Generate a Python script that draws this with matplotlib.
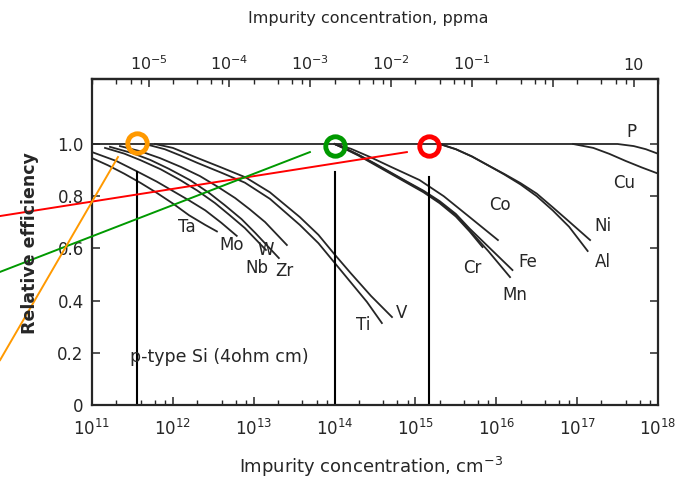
import numpy as np
import matplotlib
matplotlib.use("Agg")
import matplotlib.pyplot as plt
from matplotlib.ticker import LogLocator, FixedLocator, FuncFormatter, NullFormatter

# curves: log10 of concentration (cm^-3) and relative efficiency
p_logn = [11.0, 17.5, 17.7, 17.85, 17.98]
p_eff = [1.0, 1.0, 0.992, 0.98, 0.965]
cu_logn = [16.95, 17.2, 17.4, 17.6, 17.8, 17.98]
cu_eff = [1.0, 0.985, 0.962, 0.935, 0.91, 0.889]
ni_logn = [15.3, 15.5, 15.7, 15.9, 16.1, 16.3, 16.5, 16.7, 16.9, 17.16]
ni_eff = [1.0, 0.98, 0.952, 0.918, 0.885, 0.85, 0.81, 0.757, 0.703, 0.632]
al_logn = [15.3, 15.5, 15.7, 15.9, 16.1, 16.3, 16.5, 16.7, 16.9, 17.13]
al_eff = [1.0, 0.98, 0.952, 0.918, 0.883, 0.845, 0.80, 0.745, 0.683, 0.59]
co_logn = [14.0, 14.2, 14.44, 14.7, 15.05, 15.35, 15.67, 16.02]
co_eff = [1.0, 0.982, 0.95, 0.912, 0.862, 0.80, 0.72, 0.632]
cr_logn = [14.0, 14.15, 14.3, 14.5, 14.7, 14.9, 15.1, 15.3, 15.5, 15.67, 15.83]
cr_eff = [1.0, 0.978, 0.955, 0.92, 0.885, 0.85, 0.815, 0.773, 0.722, 0.665, 0.605]
mn_logn = [14.0, 14.15, 14.3, 14.5, 14.7, 14.9, 15.1, 15.3, 15.5, 15.67, 15.9, 16.17]
mn_eff = [1.0, 0.98, 0.957, 0.923, 0.888, 0.853, 0.818, 0.777, 0.727, 0.669, 0.59, 0.49]
fe_logn = [14.0, 14.15, 14.3, 14.5, 14.7, 14.9, 15.1, 15.3, 15.5, 15.67, 15.9, 16.2]
fe_eff = [1.0, 0.98, 0.958, 0.925, 0.89, 0.855, 0.821, 0.781, 0.732, 0.676, 0.607, 0.517]
ta_logn = [11.0, 11.2, 11.4, 11.6, 11.8, 12.0, 12.2, 12.4, 12.545]
ta_eff = [0.946, 0.918, 0.886, 0.851, 0.813, 0.772, 0.727, 0.69, 0.665]
mo_logn = [11.0, 11.3, 11.57, 11.8, 12.0, 12.2, 12.4, 12.6, 12.79]
mo_eff = [0.969, 0.935, 0.893, 0.856, 0.82, 0.784, 0.746, 0.698, 0.648]
nb_logn = [11.161, 11.4, 11.6, 11.85, 12.09, 12.3, 12.52, 12.7, 12.89, 13.151]
nb_eff = [0.985, 0.963, 0.938, 0.903, 0.862, 0.822, 0.774, 0.728, 0.678, 0.594]
zr_logn = [11.222, 11.5, 11.72, 11.95, 12.21, 12.45, 12.64, 12.85, 13.02, 13.311]
zr_eff = [0.989, 0.965, 0.939, 0.905, 0.862, 0.812, 0.766, 0.712, 0.659, 0.563]
w_logn = [11.346, 11.6, 11.84, 12.1, 12.335, 12.55, 12.77, 12.95, 13.14, 13.41]
w_eff = [0.992, 0.972, 0.946, 0.912, 0.877, 0.837, 0.793, 0.75, 0.701, 0.613]
ti_logn = [11.655, 11.9, 12.1, 12.3, 12.6, 12.89, 13.2, 13.57, 13.8, 14.0, 14.2, 14.4, 14.585]
ti_eff = [1.0, 0.98, 0.955, 0.928, 0.89, 0.852, 0.79, 0.69, 0.62, 0.545, 0.47, 0.395, 0.314]
v_logn = [11.779, 12.0, 12.3, 12.6, 12.9, 13.2, 13.57, 13.8, 14.0, 14.2, 14.45, 14.71]
v_eff = [1.0, 0.985, 0.947, 0.91, 0.872, 0.815, 0.72, 0.652, 0.577, 0.505, 0.418, 0.337]

label_names = ["P", "Cu", "Co", "Ni", "Al", "Fe", "Cr", "Mn", "Ti", "V",
               "Ta", "Mo", "Nb", "Zr", "W"]
label_logn = [17.675, 17.576, 16.04, 17.32, 17.32, 16.39, 15.70, 16.23, 14.36, 14.83,
              12.174, 12.73, 13.04, 13.385, 13.15]
label_eff = [1.046, 0.851, 0.766, 0.686, 0.548, 0.548, 0.525, 0.421, 0.307, 0.352,
             0.682, 0.613, 0.525, 0.513, 0.594]

# axis ticks
cm_ticks = [1e11, 1e12, 1e13, 1e14, 1e15, 1e16, 1e17, 1e18]
ppma_ticks = [1e-5, 1e-4, 1e-3, 1e-2, 1e-1, 1.0, 10.0]
eff_ticks = [0, 0.2, 0.4, 0.6, 0.8, 1.0]
eff_labels = ["0", "0.2", "0.4", "0.6", "0.8", "1.0"]

# overlay marks drawn on top of the scan
circle_logn = [11.556, 14.004, 15.166]
circle_eff = [1.004, 0.992, 0.992]
circle_colors = ["#ff9900", "#009900", "#ff0000"]
vline_top = [0.893, 0.893, 0.874]
ray_logn = [[9.863, 14.894], [9.863, 13.695], [9.863, 11.321]]
ray_eff = [[0.724, 0.969], [0.510, 0.969], [0.172, 0.950]]
ray_colors = ["#ff0000", "#009900", "#ff9900"]

ink = "#262626"

fig = plt.figure(figsize=(6.77, 4.79), dpi=100)
ax = fig.add_axes([92 / 677, 1 - 405 / 479, 566 / 677, 326 / 479])
ax.set_xscale("log")
ax.set_xlim(1e11, 1e18)
ax.set_ylim(0, 1.249)

curves = [(p_logn, p_eff), (cu_logn, cu_eff), (ni_logn, ni_eff), (al_logn, al_eff),
          (co_logn, co_eff), (cr_logn, cr_eff), (mn_logn, mn_eff), (fe_logn, fe_eff),
          (ta_logn, ta_eff), (mo_logn, mo_eff), (nb_logn, nb_eff), (zr_logn, zr_eff),
          (w_logn, w_eff), (ti_logn, ti_eff), (v_logn, v_eff)]
for logn, eff in curves:
    ax.plot(np.power(10.0, logn), eff, color=ink, lw=1.3, solid_joinstyle="round")

for name, lx, ly in zip(label_names, label_logn, label_eff):
    ax.text(10 ** lx, ly, name, fontsize=12, color=ink, ha="center", va="center")

ax.text(10 ** 11.47, 0.184, "p-type Si (4ohm cm)", fontsize=12.5, color=ink,
        ha="left", va="center")

# ticks
ax.xaxis.set_major_locator(FixedLocator(cm_ticks))
ax.xaxis.set_minor_locator(LogLocator(base=10, subs=(2, 4, 6, 8), numticks=20))
ax.xaxis.set_minor_formatter(NullFormatter())
ax.set_yticks(eff_ticks)
ax.set_yticklabels(eff_labels)
ax.tick_params(axis="both", which="major", direction="in", length=6, width=1.1,
               color=ink, labelsize=12, labelcolor=ink)
ax.tick_params(axis="x", which="major", pad=10)
ax.tick_params(axis="x", which="minor", direction="in", length=3.5, width=1.0, color=ink)
ax.tick_params(axis="y", right=True, pad=6)
for s in ax.spines.values():
    s.set_linewidth(1.6)
    s.set_color(ink)

top = ax.secondary_xaxis("top", functions=(lambda n: n / 5e16, lambda p: p * 5e16))
top.xaxis.set_major_locator(FixedLocator(ppma_ticks))
top.xaxis.set_minor_locator(LogLocator(base=10, subs=(2, 4, 6, 8), numticks=20))
top.xaxis.set_minor_formatter(NullFormatter())


def ppma_fmt(v, pos):
    e = int(round(np.log10(v)))
    if e == 0:
        return ""
    if e == 1:
        return "10"
    return r"$10^{%d}$" % e


top.xaxis.set_major_formatter(FuncFormatter(ppma_fmt))
top.tick_params(axis="x", which="major", direction="in", length=6, width=1.1,
                color=ink, labelsize=11.5, labelcolor=ink, pad=4)
top.tick_params(axis="x", which="minor", direction="in", length=3.5, width=1.0, color=ink)
top.spines["top"].set_linewidth(1.6)
top.spines["top"].set_color(ink)

fig.text(368 / 677, 1 - 18 / 479, "Impurity concentration, ppma", fontsize=11.5,
         color=ink, ha="center", va="center")
fig.text(371 / 677, 1 - 467 / 479, r"Impurity concentration, cm$^{-3}$", fontsize=13,
         color=ink, ha="center", va="center")
fig.text(30 / 677, 1 - 243 / 479, "Relative efficiency", fontsize=12.5, fontweight="bold",
         color=ink, ha="center", va="center", rotation=90)

# overlay: vertical markers, circles and rays
for lx, yt in zip(circle_logn, vline_top):
    ax.plot([10 ** lx, 10 ** lx], [0, yt], color="black", lw=1.5)
for lx, ly, c in zip(circle_logn, circle_eff, circle_colors):
    ax.plot(10 ** lx, ly, "o", ms=14, mfc="none", mec=c, mew=3.5, zorder=5)
for lx, ly, c in zip(ray_logn, ray_eff, ray_colors):
    ax.plot(np.power(10.0, lx), ly, color=c, lw=1.4, clip_on=False, zorder=4)

fig.savefig("out.png", dpi=100)
